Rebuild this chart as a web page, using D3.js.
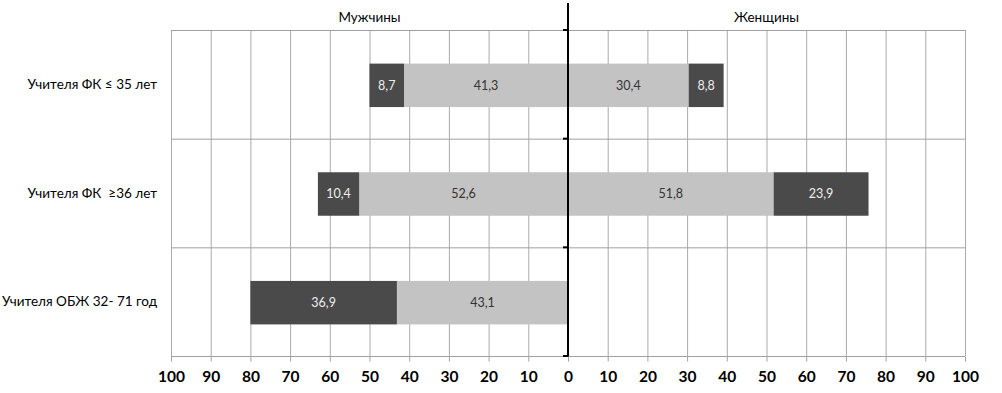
<!DOCTYPE html>
<html>
<head>
<meta charset="utf-8">
<script src="https://cdn.jsdelivr.net/npm/d3@7"></script>
<style>
  body { margin: 0; background: #fff; }
  svg { display: block; }
</style>
</head>
<body>
<svg width="1002" height="393"></svg>
<script>
const categories = ["Учителя ФК ≤ 35 лет", "Учителя ФК  ≥36 лет", "Учителя ОБЖ 32- 71 год"];
const menLight = [41.3, 52.6, 43.1];
const menDark = [8.7, 10.4, 36.9];
const womenLight = [30.4, 51.8, null];
const womenDark = [8.8, 23.9, null];
const tickValues = d3.range(-100, 101, 10);

const width = 1002, height = 393;
const margin = { top: 30, right: 37, bottom: 37, left: 171 };

const svg = d3.select("svg");
const font = "Lato, 'Open Sans', sans-serif";

const x = d3.scaleLinear().domain([-100, 100]).range([margin.left, width - margin.right]);
const y = d3.scaleBand().domain(categories).range([margin.top, height - margin.bottom]).paddingInner(0).paddingOuter(0);
const bh = y.bandwidth() * 0.4;

// grid
const grid = svg.append("g");
grid.selectAll("line.v")
  .data(tickValues)
  .enter().append("line")
  .attr("x1", d => x(d) + 0.5).attr("x2", d => x(d) + 0.5)
  .attr("y1", margin.top).attr("y2", height - margin.bottom)
  .attr("stroke", "#aaaaaa").attr("stroke-width", 1);
grid.selectAll("line.h")
  .data(categories.map(c => y(c)).concat([height - margin.bottom]))
  .enter().append("line")
  .attr("x1", x(-100)).attr("x2", x(100))
  .attr("y1", d => d + 0.5).attr("y2", d => d + 0.5)
  .attr("stroke", "#a0a0a0").attr("stroke-width", 1);

// segments
const segs = [];
categories.forEach((c, i) => {
  segs.push({ c, x0: -menLight[i], x1: 0, v: menLight[i], dark: false });
  segs.push({ c, x0: -menLight[i] - menDark[i], x1: -menLight[i], v: menDark[i], dark: true });
  if (womenLight[i] != null) {
    segs.push({ c, x0: 0, x1: womenLight[i], v: womenLight[i], dark: false });
    segs.push({ c, x0: womenLight[i], x1: womenLight[i] + womenDark[i], v: womenDark[i], dark: true });
  }
});

const bars = svg.append("g");
bars.selectAll("rect")
  .data(segs)
  .enter().append("rect")
  .attr("x", d => x(d.x0))
  .attr("width", d => x(d.x1) - x(d.x0))
  .attr("y", d => y(d.c) + (y.bandwidth() - bh) / 2 + 1)
  .attr("height", bh)
  .attr("fill", d => d.dark ? "#4a4a4a" : "#c3c3c3");

bars.selectAll("text")
  .data(segs)
  .enter().append("text")
  .attr("x", d => (x(d.x0) + x(d.x1)) / 2)
  .attr("y", d => y(d.c) + y.bandwidth() / 2 + 1)
  .attr("dy", "0.35em")
  .attr("text-anchor", "middle")
  .attr("font-family", font)
  .attr("font-size", 12.5)
  .attr("fill", d => d.dark ? "#eeeeee" : "#333")
  .text(d => d3.format(".1f")(d.v).replace(".", ","));

// center axis
const cx = Math.round(x(0));
svg.append("line")
  .attr("x1", cx).attr("x2", cx)
  .attr("y1", 3).attr("y2", height - margin.bottom + 1)
  .attr("stroke", "#000").attr("stroke-width", 2);
svg.append("g").selectAll("line")
  .data(categories.map(c => y(c)).concat([height - margin.bottom]))
  .enter().append("line")
  .attr("x1", cx - 5).attr("x2", cx)
  .attr("y1", d => d).attr("y2", d => d)
  .attr("stroke", "#000").attr("stroke-width", 2);

// bottom axis
const xAxis = d3.axisBottom(x)
  .tickValues(tickValues)
  .tickSize(5)
  .tickPadding(9)
  .tickFormat(d => Math.abs(d));
const ax = svg.append("g")
  .attr("transform", `translate(0,${height - margin.bottom + 0.5})`)
  .call(xAxis);
ax.select(".domain").remove();
ax.selectAll(".tick line").attr("stroke", "#a0a0a0");
ax.selectAll(".tick text")
  .attr("font-family", font)
  .attr("font-size", 15.5)
  .attr("font-weight", "bold")
  .attr("fill", "#000");

// category labels
svg.append("g").selectAll("text")
  .data(categories)
  .enter().append("text")
  .attr("x", margin.left - 14)
  .attr("y", d => y(d) + y.bandwidth() / 2)
  .attr("dy", "0.35em")
  .attr("text-anchor", "end")
  .attr("font-family", font)
  .attr("font-size", 13.5)
  .attr("fill", "#000")
  .style("white-space", "pre")
  .text(d => d);

// headers
svg.append("text")
  .attr("x", x(-50)).attr("y", 22)
  .attr("text-anchor", "middle")
  .attr("font-family", font).attr("font-size", 13.5)
  .text("Мужчины");
svg.append("text")
  .attr("x", x(50)).attr("y", 22)
  .attr("text-anchor", "middle")
  .attr("font-family", font).attr("font-size", 13.5)
  .text("Женщины");
</script>
</body>
</html>
